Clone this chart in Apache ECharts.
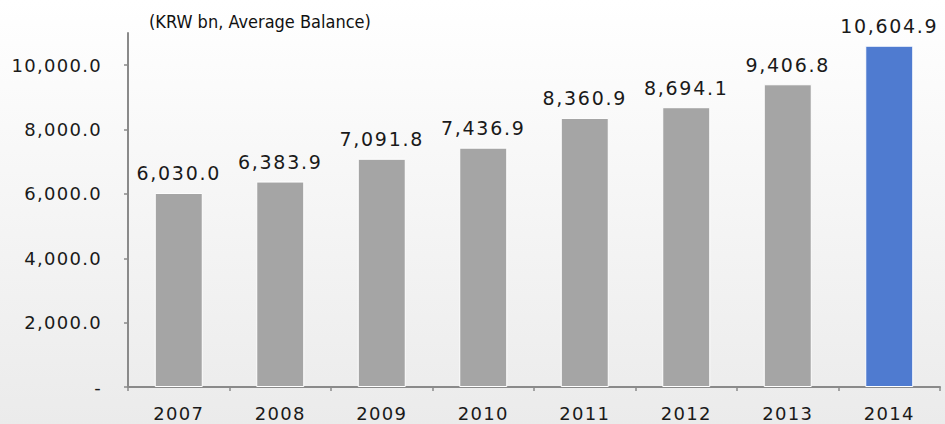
<!DOCTYPE html>
<html><head><meta charset="utf-8">
<script src="https://cdn.jsdelivr.net/npm/echarts@6/dist/echarts.min.js"></script>
<style>
html,body{margin:0;padding:0;}
#c{width:945px;height:424px;background:linear-gradient(to bottom,#ffffff 0%,#f7f7f7 40%,#ebebeb 100%);}
#c svg text{letter-spacing:1.3px;}
#c svg text[style*="19px"]{letter-spacing:1.7px;}
#c svg text[style*="Condensed"]{letter-spacing:0;}
</style></head>
<body><div id="c"></div>
<script>
const categories = ['2007','2008','2009','2010','2011','2012','2013','2014'];
const values = [6030.0, 6383.9, 7091.8, 7436.9, 8360.9, 8694.1, 9406.8, 10604.9];
const yTicks = [0, 2000, 4000, 6000, 8000, 10000];
const unitLabel = '(KRW bn, Average Balance)';

const fmt = v => v === 0 ? '-' : v.toLocaleString('en-US',{minimumFractionDigits:1,maximumFractionDigits:1});
const FONT = 'DejaVu Sans';
const chart = echarts.init(document.getElementById('c'), null, {renderer:'svg'});
chart.setOption({
  backgroundColor: 'transparent',
  animation: false,
  title: {text: unitLabel, left: 144, top: 7, textStyle:{fontFamily:'DejaVu Sans Condensed', fontSize:18, fontWeight:'normal', color:'#111'}},
  grid: {left:128, right:5, top:33, bottom:37},
  xAxis: {
    type:'category', data: categories,
    axisLine:{lineStyle:{color:'#8a8a8a', width:2}},
    axisTick:{show:true, alignWithLabel:false, length:4, lineStyle:{color:'#8a8a8a', width:1.5}},
    axisLabel:{fontFamily:FONT, fontSize:18, fontWeight:'normal', color:'#1a1a1a', margin:17}
  },
  yAxis: {
    type:'value', min:0, max:11000,
    splitLine:{show:false},
    axisLine:{show:true, lineStyle:{color:'#8a8a8a', width:2}},
    axisTick:{show:true, length:4, customValues: yTicks, lineStyle:{color:'#8a8a8a', width:1.5}},
    axisLabel:{customValues: yTicks, formatter: fmt, fontFamily:FONT, fontSize:18, fontWeight:'normal', color:'#1a1a1a', margin:26}
  },
  series: [{
    type:'bar', barWidth:48,
    data: values.map((v,i)=>({value:v, itemStyle:{color: i===values.length-1 ? '#4f7bd0' : '#a5a5a5'}})),
    itemStyle:{borderColor:'#ffffff', borderWidth:1},
    label:{show:true, position:'top', distance:10, formatter: p=>fmt(p.value), fontFamily:FONT, fontSize:19, fontWeight:'normal', color:'#1a1a1a'}
  }]
});
</script></body></html>
